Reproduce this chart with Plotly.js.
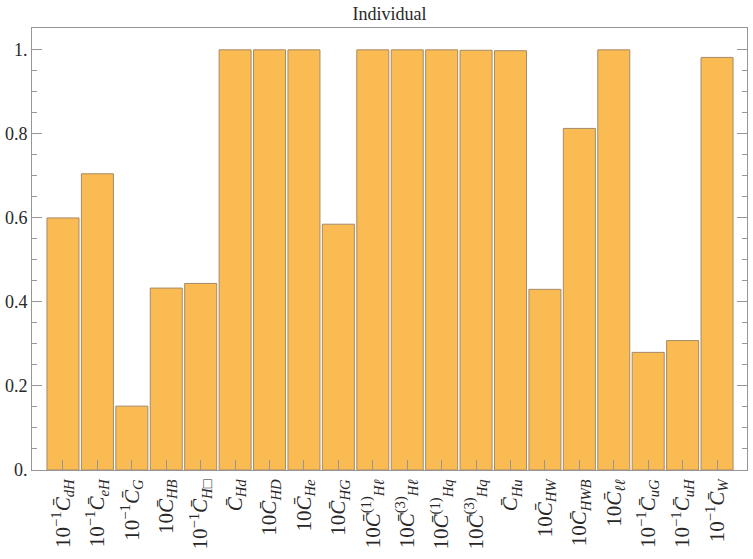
<!DOCTYPE html>
<html>
<head>
<meta charset="utf-8">
<script src="https://cdn.plot.ly/plotly-3.0.1.min.js"></script>
<style>
  html, body { margin: 0; padding: 0; background: #fff; }
  #chart { width: 753px; height: 559px; }
</style>
</head>
<body>
<div id="chart"></div>
<script>
// coefficient labels: prefactor, subscript, optional superscript
const prefixes = ['10<sup>−1</sup>', '10<sup>−1</sup>', '10<sup>−1</sup>', '10', '10<sup>−1</sup>', '', '10', '10', '10', '10',
                  '10', '10', '10', '', '10', '10', '10', '10<sup>−1</sup>', '10<sup>−1</sup>', '10<sup>−1</sup>']
const subscripts = ['dH', 'eH', 'G', 'HB', 'H□', 'Hd', 'HD', 'He', 'HG', 'Hℓ',
                    'Hℓ', 'Hq', 'Hq', 'Hu', 'HW', 'HWB', 'ℓℓ', 'uG', 'uH', 'W']
const superscripts = ['', '', '', '', '', '', '', '', '', '(1)',
                      '(3)', '(1)', '(3)', '', '', '', '', '', '', '']
const values = [0.600, 0.705, 0.152, 0.433, 0.444, 1.000, 1.000, 1.000, 0.585, 1.000,
                1.000, 1.000, 0.999, 0.998, 0.430, 0.813, 1.000, 0.280, 0.308, 0.982]
const yTickVals = [0, 0.2, 0.4, 0.6, 0.8, 1.0]
const yTickText = ['0.', '0.2', '0.4', '0.6', '0.8', '1.']

const colorBar = 'rgb(250,187,82)'
const colorBarEdge = 'rgb(165,138,105)'
const colorAxis = 'rgb(150,150,150)'
const colorText = 'rgb(40,40,40)'
const serif = 'Liberation Serif, DejaVu Serif, serif'

const labels = prefixes.map((p, i) => {
  const sup = superscripts[i] ? '<sup>' + superscripts[i] + '</sup>' : ''
  return p + '<i>C\u0304</i>' + sup + '<sub><i>' + subscripts[i] + '</i></sub>'
})
const xs = values.map((_, i) => i)

const data = [
  {
    x: xs,
    y: values,
    type: 'bar',
    width: 0.93,
    marker: { color: colorBar, line: { color: colorBarEdge, width: 1 } },
    hoverinfo: 'y'
  }
]

const layout = {
  width: 753,
  height: 559,
  margin: { l: 32, r: 6, t: 28, b: 89 },
  paper_bgcolor: '#fff',
  plot_bgcolor: '#fff',
  showlegend: false,
  font: { family: serif },
  title: {
    text: 'Individual',
    font: { family: serif, size: 18, color: colorText },
    xref: 'paper', x: 0.5, xanchor: 'center',
    yref: 'container', y: 0.976, yanchor: 'middle'
  },
  xaxis: {
    range: [-0.9, 19.87],
    tickvals: xs,
    ticktext: labels,
    tickangle: -90,
    ticks: 'inside',
    ticklen: 10,
    tickcolor: colorAxis,
    showgrid: false,
    zeroline: false,
    showline: true,
    linecolor: colorAxis,
    mirror: true,
    tickfont: { family: serif, size: 21, color: colorText }
  },
  yaxis: {
    range: [0, 1.052],
    tickvals: yTickVals,
    ticktext: yTickText,
    ticks: 'inside',
    ticklen: 10,
    tickcolor: colorAxis,
    minor: { dtick: 0.05, tick0: 0, ticks: 'inside', ticklen: 5, tickcolor: colorAxis, showgrid: false },
    showgrid: false,
    zeroline: false,
    showline: true,
    linecolor: colorAxis,
    mirror: 'ticks',
    tickfont: { family: serif, size: 18, color: colorText }
  }
}

Plotly.newPlot('chart', data, layout, { displayModeBar: false })
</script>
</body>
</html>
